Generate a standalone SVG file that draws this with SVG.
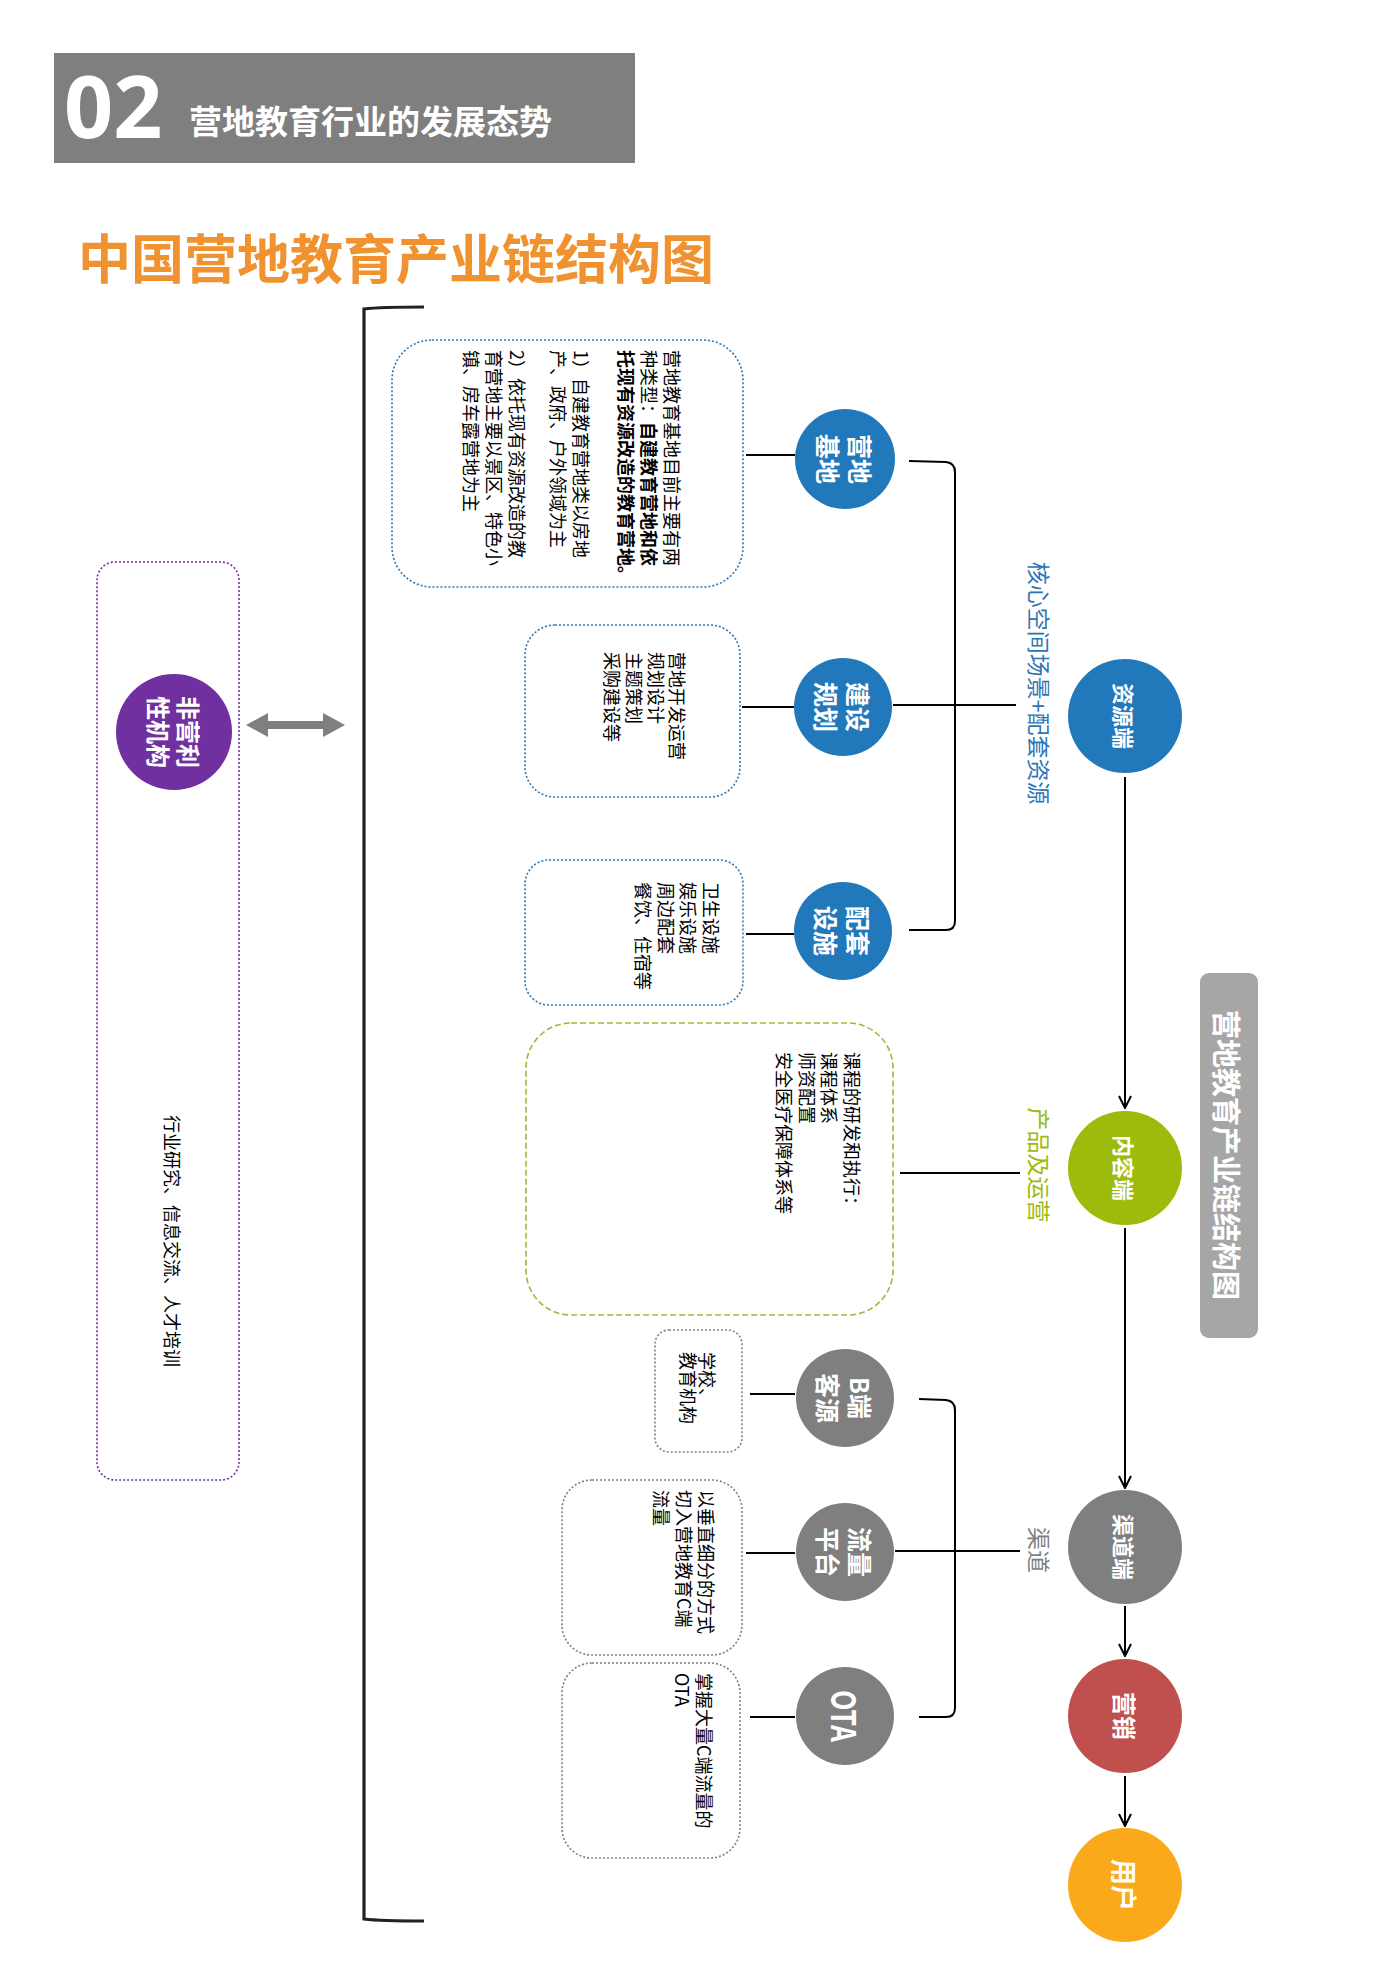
<svg xmlns="http://www.w3.org/2000/svg" width="1400" height="1980" viewBox="0 0 1400 1980">
<defs>
<style>
.cjk{font-family:"Noto Sans CJK SC","Noto Sans",sans-serif;}
.t18{font-family:"Noto Sans CJK SC",sans-serif;font-size:18px;fill:#000;dominant-baseline:central;}
.b18{font-weight:bold;}
.lab{font-family:"Noto Sans CJK SC",sans-serif;font-weight:bold;fill:#fff;dominant-baseline:central;text-anchor:middle;}
.side{font-family:"Noto Sans CJK SC",sans-serif;font-size:23px;dominant-baseline:central;text-anchor:middle;}
.ln{stroke:#000;stroke-width:2;fill:none;}
.bx-blue{fill:#fff;stroke:#2E75B6;stroke-width:1.6;stroke-dasharray:2 2;}
.bx-green{fill:#fff;stroke:#9BBB3B;stroke-width:1.6;stroke-dasharray:6 3;}
.bx-gray{fill:#fff;stroke:#7F7F7F;stroke-width:1.6;stroke-dasharray:2 2;}
.bx-purple{fill:#fff;stroke:#7030A0;stroke-width:1.6;stroke-dasharray:2 2;}
</style>
<marker id="arr" viewBox="0 0 14 14" refX="13" refY="7" markerWidth="14" markerHeight="14" orient="auto" markerUnits="userSpaceOnUse">
<path d="M1,1 L13,7 L1,13" fill="none" stroke="#000" stroke-width="2"/>
</marker>
</defs>
<rect width="1400" height="1980" fill="#fff"/>

<!-- header -->
<g id="header">
<rect x="54" y="53" width="581" height="110" fill="#7F7F7F"/>
<text x="64" y="138" font-family="'Open Sans',sans-serif" font-weight="bold" font-size="86" fill="#fff">02</text>
<text x="189" y="134" class="cjk" font-weight="bold" font-size="33" fill="#fff">营地教育行业的发展态势</text>
</g>
<g id="title">
<text x="78" y="279" class="cjk" font-weight="bold" font-size="53" fill="#F0922F">中国营地教育产业链结构图</text>
</g>

<!-- connectors -->
<g id="connectors">
<path d="M424 307 Q380 307 364 309 L364 1919 Q380 1921 424 1921" stroke="#222" stroke-width="3.2" fill="none"/>
<polygon points="246,725 268,713 268,721 323,721 323,713 345,725 323,737 323,729 268,729 268,737" fill="#7F7F7F"/>
<line x1="173" y1="798" x2="173" y2="1064" class="ln"/>
<line x1="746" y1="455" x2="795" y2="455" class="ln"/>
<line x1="742" y1="707" x2="794" y2="707" class="ln"/>
<line x1="746" y1="934" x2="794" y2="934" class="ln"/>
<line x1="750" y1="1394" x2="795" y2="1394" class="ln"/>
<line x1="746" y1="1553" x2="795" y2="1553" class="ln"/>
<line x1="750" y1="1717" x2="795" y2="1717" class="ln"/>
<path d="M909 461 L946 462 Q955 463 955 472 L955 921 Q955 930 946 930 L909 930" class="ln"/>
<line x1="893" y1="705" x2="1016" y2="705" class="ln"/>
<line x1="900" y1="1173" x2="1020" y2="1173" class="ln"/>
<path d="M919 1399 L946 1400 Q955 1401 955 1410 L955 1708 Q955 1717 946 1717 L919 1717" class="ln"/>
<line x1="895" y1="1551" x2="1020" y2="1551" class="ln"/>
<line x1="1125" y1="777" x2="1125" y2="1108" class="ln" marker-end="url(#arr)"/>
<line x1="1125" y1="1228" x2="1125" y2="1488" class="ln" marker-end="url(#arr)"/>
<line x1="1125" y1="1606" x2="1125" y2="1656" class="ln" marker-end="url(#arr)"/>
<line x1="1125" y1="1776" x2="1125" y2="1826" class="ln" marker-end="url(#arr)"/>
</g>

<!-- side labels -->
<g id="label-core">
<g transform="translate(1040,683) rotate(90)"><text class="side" fill="#2E75B6">核心空间场景+配套资源</text></g>
</g>
<g id="label-product">
<g transform="translate(1040,1165) rotate(90)"><text class="side" fill="#9CBB0B">产品及运营</text></g>
</g>
<g id="label-channel">
<g transform="translate(1040,1550) rotate(90)"><text class="side" fill="#7F7F7F">渠道</text></g>
</g>

<!-- purple box -->
<g id="nonprofit-box">
<rect x="97" y="562" width="142" height="918" rx="18" class="bx-purple"/>
<g transform="translate(173,1241) rotate(90)"><text class="t18" text-anchor="middle">行业研究、信息交流、人才培训</text></g>
</g>
<g id="nonprofit">
<circle cx="174" cy="732" r="58" fill="#7030A0"/>
<g transform="translate(174,732) rotate(90)">
<text class="lab" font-size="24" y="-15">非营利</text>
<text class="lab" font-size="24" y="15">性机构</text>
</g>
</g>

<!-- box 1 -->
<g id="box-campbase">
<rect x="392" y="340" width="351" height="247" rx="40" class="bx-blue"/>
<g transform="translate(700,350) rotate(90)">
<text class="t18" y="27">营地教育基地目前主要有两</text>
<text class="t18" y="50">种类型：<tspan font-weight="bold">自建教育营地和依</tspan></text>
<text class="t18 b18" y="73" font-weight="bold">托现有资源改造的教育营地。</text>
<text class="t18" y="118">1）自建教育营地类以房地</text>
<text class="t18" y="141">产、政府、户外领域为主</text>
<text class="t18" y="182">2）依托现有资源改造的教</text>
<text class="t18" y="205">育营地主要以景区、特色小</text>
<text class="t18" y="228">镇、房车露营地为主</text>
</g>
</g>
<g id="campbase">
<circle cx="845" cy="459" r="50" fill="#2178BA"/>
<g transform="translate(845,459) rotate(90)">
<text class="lab" font-size="25" y="-16">营地</text>
<text class="lab" font-size="25" y="16">基地</text>
</g>
</g>

<!-- box 2 -->
<g id="box-planning">
<rect x="525" y="625" width="215" height="172" rx="30" class="bx-blue"/>
<g transform="translate(700,652) rotate(90)">
<text class="t18" y="22">营地开发运营</text>
<text class="t18" y="43">规划设计</text>
<text class="t18" y="65">主题策划</text>
<text class="t18" y="87">采购建设等</text>
</g>
</g>
<g id="planning">
<circle cx="843" cy="707" r="49" fill="#2178BA"/>
<g transform="translate(843,707) rotate(90)">
<text class="lab" font-size="25" y="-16">建设</text>
<text class="lab" font-size="25" y="16">规划</text>
</g>
</g>

<!-- box 3 -->
<g id="box-facility">
<rect x="525" y="860" width="218" height="145" rx="24" class="bx-blue"/>
<g transform="translate(730,882) rotate(90)">
<text class="t18" y="18">卫生设施</text>
<text class="t18" y="41">娱乐设施</text>
<text class="t18" y="63">周边配套</text>
<text class="t18" y="86">餐饮、住宿等</text>
</g>
</g>
<g id="facility">
<circle cx="843" cy="931" r="49" fill="#2178BA"/>
<g transform="translate(843,931) rotate(90)">
<text class="lab" font-size="25" y="-16">配套</text>
<text class="lab" font-size="25" y="16">设施</text>
</g>
</g>

<!-- green box -->
<g id="box-content">
<rect x="526" y="1023" width="367" height="292" rx="45" class="bx-green"/>
<g transform="translate(870,1052) rotate(90)">
<text class="t18" y="17">课程的研发和执行：</text>
<text class="t18" y="40">课程体系</text>
<text class="t18" y="62">师资配置</text>
<text class="t18" y="85">安全医疗保障体系等</text>
</g>
</g>

<!-- channel boxes -->
<g id="box-b">
<rect x="655" y="1330" width="87" height="122" rx="14" class="bx-gray"/>
<g transform="translate(720,1352) rotate(90)">
<text class="t18" y="12">学校、</text>
<text class="t18" y="31">教育机构</text>
</g>
</g>
<g id="b-client">
<circle cx="845" cy="1398" r="49" fill="#7F7F7F"/>
<g transform="translate(845,1398) rotate(90)">
<text class="lab" font-size="25" y="-16">B端</text>
<text class="lab" font-size="25" y="16">客源</text>
</g>
</g>

<g id="box-traffic">
<rect x="562" y="1480" width="180" height="175" rx="30" class="bx-gray"/>
<g transform="translate(720,1490) rotate(90)">
<text class="t18" y="13">以垂直细分的方式</text>
<text class="t18" y="35">切入营地教育C端</text>
<text class="t18" y="58">流量</text>
</g>
</g>
<g id="traffic">
<circle cx="845" cy="1552" r="49" fill="#7F7F7F"/>
<g transform="translate(845,1552) rotate(90)">
<text class="lab" font-size="25" y="-16">流量</text>
<text class="lab" font-size="25" y="16">平台</text>
</g>
</g>

<g id="box-ota">
<rect x="562" y="1663" width="178" height="195" rx="30" class="bx-gray"/>
<g transform="translate(720,1673) rotate(90)">
<text class="t18" y="15">掌握大量C端流量的</text>
<text class="t18" y="37">OTA</text>
</g>
</g>
<g id="ota">
<circle cx="845" cy="1716" r="49" fill="#7F7F7F"/>
<g transform="translate(845,1716) rotate(90)">
<text class="lab" font-family="'Liberation Sans',sans-serif" font-size="34" textLength="52" lengthAdjust="spacingAndGlyphs" x="0">OTA</text>
</g>
</g>

<!-- main chain -->
<g id="resource">
<circle cx="1125" cy="716" r="57" fill="#2178BA"/>
<g transform="translate(1125,716) rotate(90)"><text class="lab" font-size="22">资源端</text></g>
</g>
<g id="content">
<circle cx="1125" cy="1168" r="57" fill="#9CBB0B"/>
<g transform="translate(1125,1168) rotate(90)"><text class="lab" font-size="22">内容端</text></g>
</g>
<g id="channel">
<circle cx="1125" cy="1547" r="57" fill="#7F7F7F"/>
<g transform="translate(1125,1547) rotate(90)"><text class="lab" font-size="22">渠道端</text></g>
</g>
<g id="marketing">
<circle cx="1125" cy="1716" r="57" fill="#C0504D"/>
<g transform="translate(1125,1716) rotate(90)"><text class="lab" font-size="24">营销</text></g>
</g>
<g id="user">
<circle cx="1125" cy="1885" r="57" fill="#FAA91B"/>
<g transform="translate(1125,1885) rotate(90)"><text class="lab" font-size="26">用户</text></g>
</g>

<!-- side tag -->
<g id="tag">
<rect x="1200" y="973" width="58" height="365" rx="9" fill="#A6A6A6"/>
<g transform="translate(1228,1155) rotate(90)"><text class="lab" font-size="29">营地教育产业链结构图</text></g>
</g>
</svg>
